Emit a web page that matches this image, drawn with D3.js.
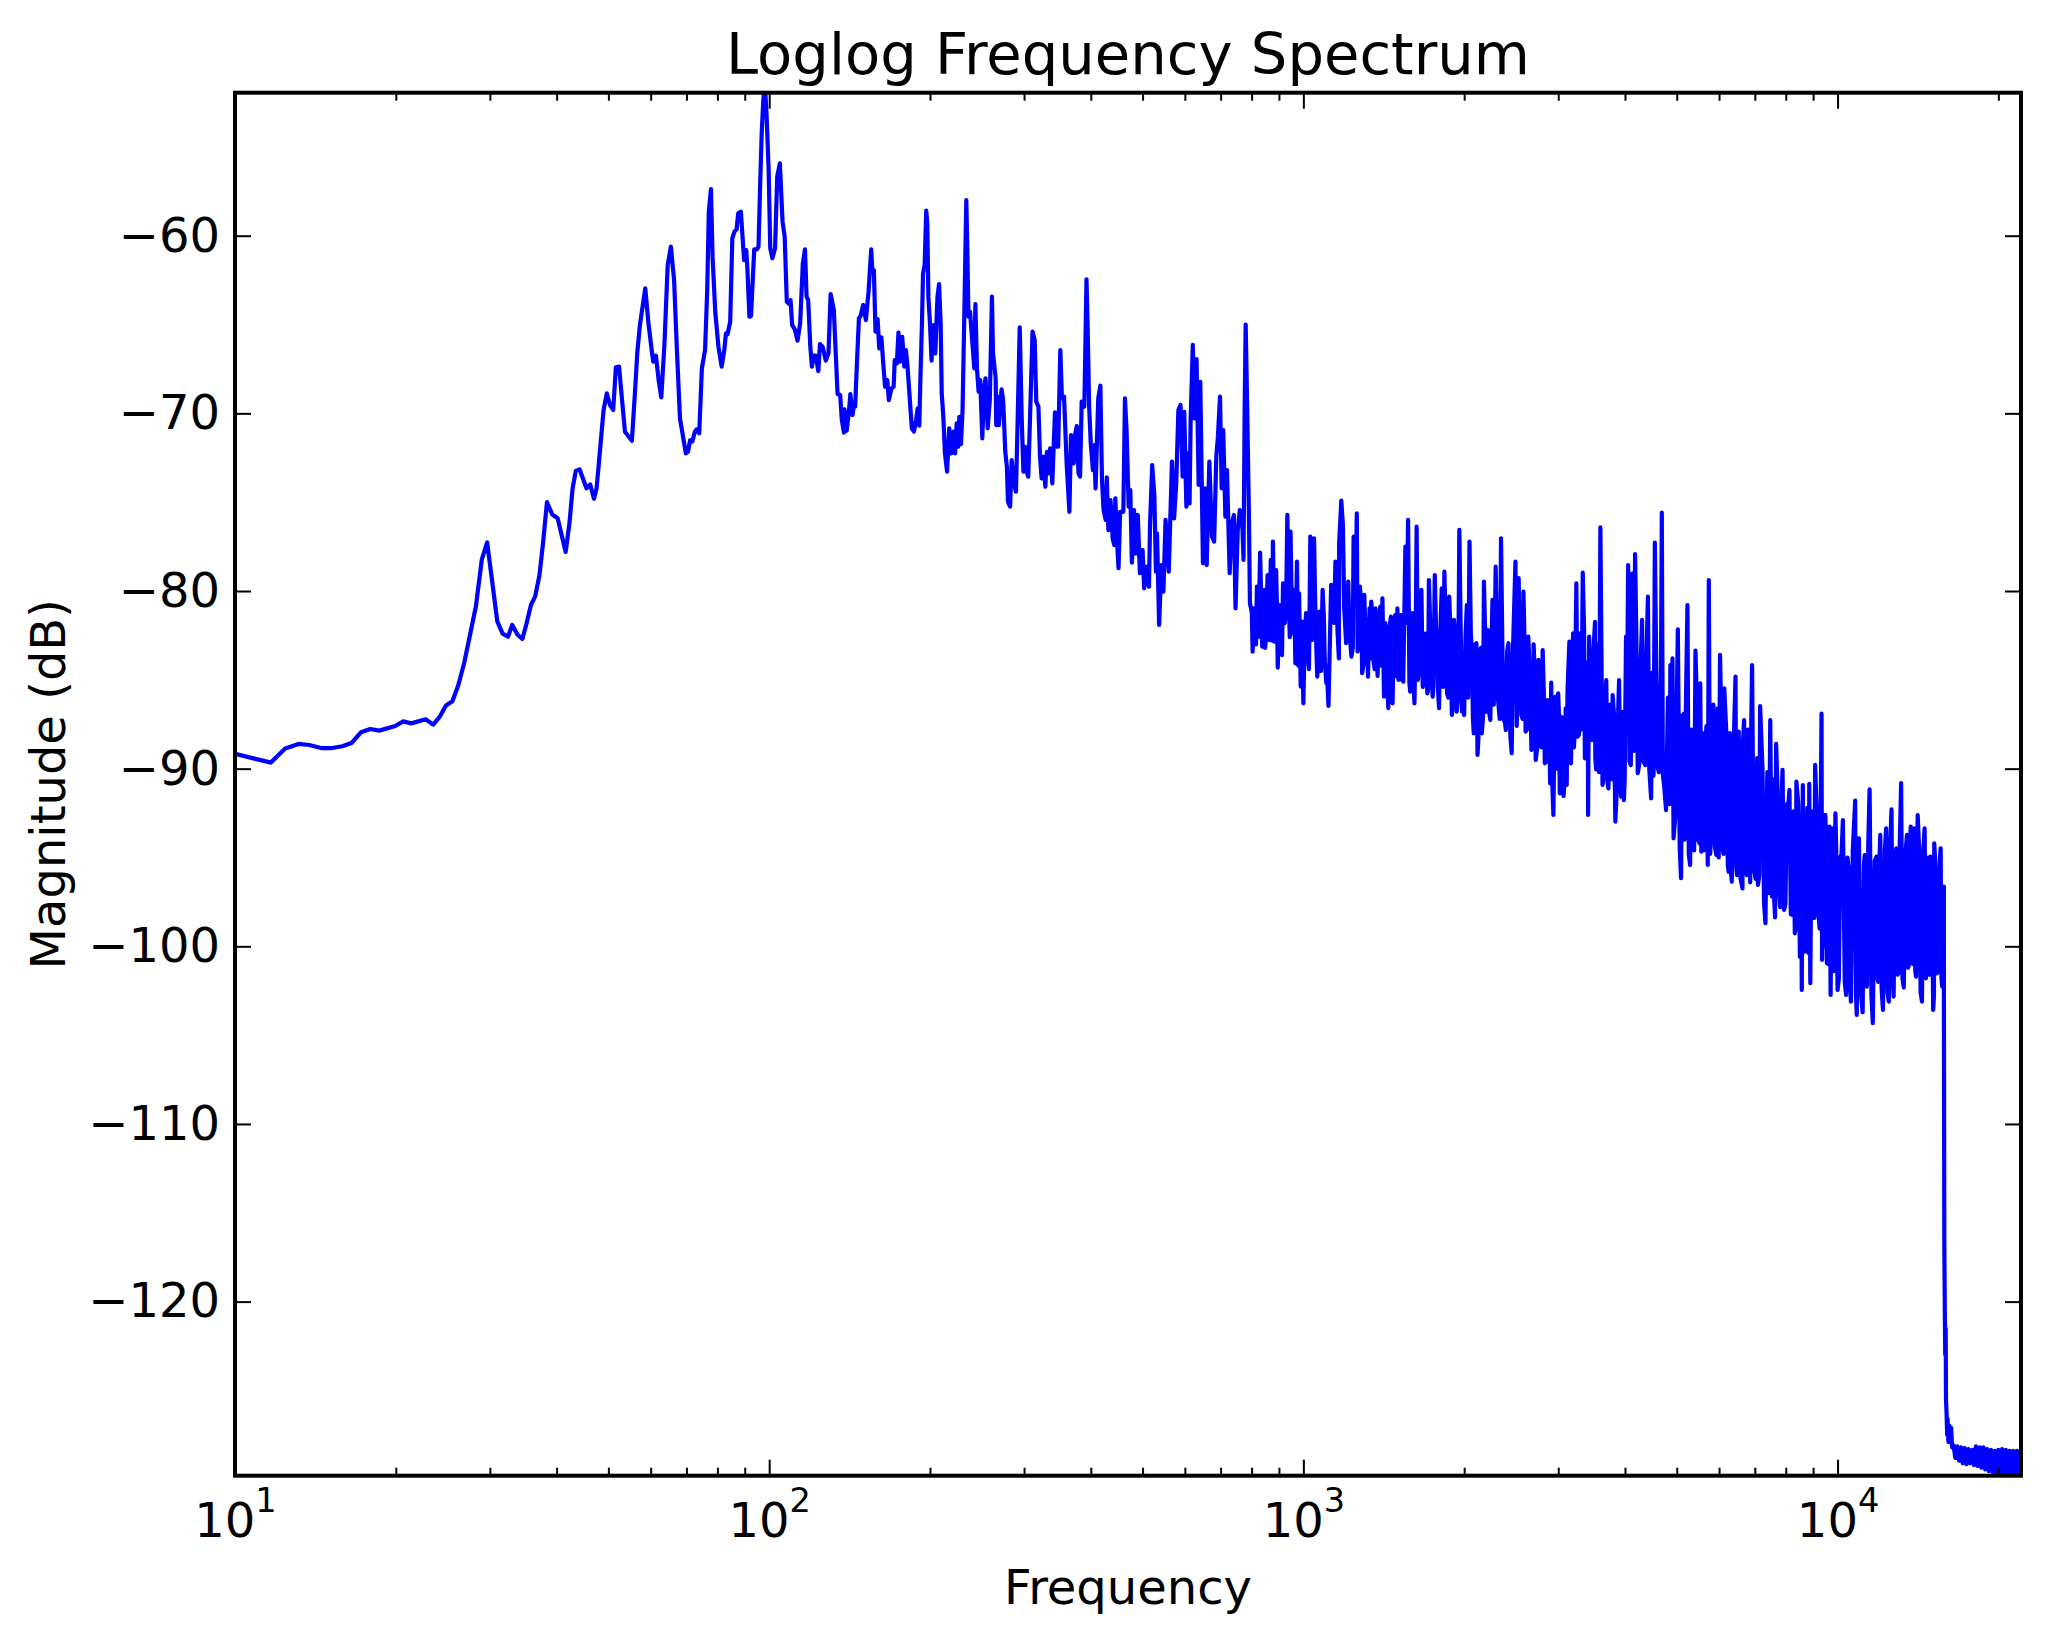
<!DOCTYPE html>
<html>
<head>
<meta charset="utf-8">
<style>
  html, body { margin: 0; background: #fff; }
  text { font-family: "DejaVu Sans"; fill: #000; }
</style>
<script src="https://cdn.jsdelivr.net/npm/d3@7"></script>
</head>
<body>
<svg id="chart" width="2049" height="1642"></svg>
<script>
// every pair is [log10 of frequency, magnitude in dB]
const lowBand = [
[1.000,-89.17],[1.067,-89.66],[1.094,-88.87],[1.119,-88.61],[1.139,-88.67],[1.161,-88.84],[1.182,-88.84],[1.201,-88.74],
[1.218,-88.56],[1.236,-87.95],[1.253,-87.77],[1.270,-87.86],[1.300,-87.6],[1.315,-87.34],[1.330,-87.45],[1.357,-87.22],
[1.371,-87.52],[1.383,-87.09],[1.395,-86.45],[1.407,-86.21],[1.418,-85.31],[1.429,-84.05],[1.440,-82.46],[1.451,-80.86],
[1.462,-78.24],[1.472,-77.26],[1.481,-79.36],[1.491,-81.71],[1.501,-82.4],[1.511,-82.57],[1.519,-81.91],[1.529,-82.46],
[1.538,-82.7],[1.546,-81.8],[1.554,-80.79],[1.562,-80.3],[1.570,-79.1],[1.577,-77.2],[1.584,-75.0],[1.594,-75.7],
[1.604,-75.9],[1.619,-77.8],[1.626,-76.2],[1.632,-74.22],[1.638,-73.24],[1.645,-73.15],[1.658,-74.22],[1.665,-74.0],
[1.672,-74.8],[1.677,-74.2],[1.685,-71.5],[1.690,-69.81],[1.696,-68.87],[1.702,-69.53],[1.708,-69.81],[1.713,-67.41],
[1.719,-67.37],[1.724,-69.06],[1.730,-71.03],[1.743,-71.54],[1.749,-68.69],[1.753,-66.62],[1.758,-65.03],[1.768,-62.96],
[1.774,-64.93],[1.780,-66.43],[1.783,-67.09],[1.788,-66.75],[1.793,-68.12],[1.798,-69.10],[1.804,-66.06],[1.810,-61.65],
[1.816,-60.62],[1.822,-62.5],[1.827,-66.25],[1.833,-70.28],[1.844,-72.25],[1.848,-72.16],[1.852,-71.5],[1.856,-71.59],
[1.861,-71.03],[1.864,-70.9],[1.869,-71.12],[1.874,-67.47],[1.880,-66.43],[1.884,-63.06],[1.887,-58.65],[1.891,-57.37],
[1.894,-61.18],[1.899,-64.28],[1.905,-66.25],[1.911,-67.37],[1.916,-66.43],[1.919,-65.50],[1.922,-65.55],[1.927,-64.84],
[1.931,-60.15],[1.935,-59.77],[1.939,-59.64],[1.942,-58.74],[1.947,-58.65],[1.953,-61.37],[1.957,-60.81],[1.959,-61.74],
[1.963,-64.56],[1.966,-64.52],[1.972,-60.77],[1.977,-60.77],[1.980,-60.62],[1.983,-57.24],[1.986,-54.24],[1.989,-52.36],
[1.992,-51.5],[1.995,-53.11],[1.999,-56.3],[2.002,-60.71],[2.006,-61.27],[2.011,-60.71],[2.015,-56.68],[2.020,-55.93],
[2.025,-59.21],[2.029,-60.06],[2.033,-63.71],[2.038,-63.85],[2.040,-63.62],[2.043,-65.03],[2.048,-65.27],[2.053,-65.91],
[2.058,-64.93],[2.063,-61.56],[2.067,-60.77],[2.070,-63.43],[2.073,-63.62],[2.077,-66.25],[2.080,-67.37],[2.083,-66.75],
[2.087,-66.75],[2.092,-67.62],[2.095,-66.1],[2.100,-66.25],[2.106,-67.03],[2.111,-66.62],[2.115,-63.28],[2.121,-64.18],
[2.128,-68.91],[2.133,-68.97]
];
const midBand = [
[2.136,-70.38],[2.140,-71.09],[2.141,-69.78],[2.145,-70.98],[2.149,-70.0],[2.152,-68.91],[2.156,-70.09],[2.159,-69.44],
[2.161,-69.62],[2.164,-67.37],[2.168,-64.65],[2.171,-64.52],[2.176,-63.9],[2.181,-64.75],[2.186,-63.15],[2.191,-60.77],
[2.193,-61.93],[2.196,-61.93],[2.199,-65.4],[2.203,-64.69],[2.206,-66.34],[2.210,-65.72],[2.214,-67.37],[2.217,-68.5],
[2.221,-68.12],[2.224,-69.25],[2.229,-68.59],[2.233,-68.5],[2.235,-67.0],[2.239,-67.19],[2.242,-65.46],[2.245,-67.09],
[2.249,-65.69],[2.253,-67.37],[2.256,-66.44],[2.259,-67.37],[2.264,-69.53],[2.267,-70.84],[2.271,-71.03],[2.275,-70.38],
[2.278,-69.72],[2.281,-70.69],[2.283,-68.12],[2.286,-64.93],[2.288,-62.12],[2.291,-61.65],[2.294,-58.59],[2.296,-59.31],
[2.298,-63.43],[2.301,-64.93],[2.304,-67.04],[2.307,-65.03],[2.311,-66.62],[2.315,-63.43],[2.318,-62.72],[2.321,-64.93],
[2.323,-68.87],[2.326,-70.19],[2.329,-72.25],[2.333,-73.28],[2.337,-70.84],[2.341,-72.25],[2.345,-71.03],[2.348,-72.25],
[2.351,-70.56],[2.354,-71.88],[2.356,-70.19],[2.359,-71.73],[2.362,-69.81],[2.365,-64.93],[2.369,-57.99],[2.371,-60.81],
[2.373,-64.56],[2.376,-64.28],[2.380,-65.87],[2.384,-67.47],[2.386,-63.85],[2.389,-67.47],[2.392,-68.78],[2.395,-68.12],
[2.399,-71.41],[2.402,-68.69],[2.405,-68.03],[2.409,-70.84],[2.413,-69.25],[2.417,-63.43],[2.419,-66.62],[2.424,-68.03],
[2.425,-70.66],[2.428,-69.06],[2.430,-70.66],[2.435,-68.65],[2.438,-69.25],[2.442,-72.16],[2.445,-73.0],[2.447,-74.97],
[2.451,-75.25],[2.454,-72.63],[2.458,-73.94],[2.462,-74.41],[2.465,-70.56],[2.469,-65.16],[2.473,-70.56],[2.476,-73.28],
[2.479,-71.88],[2.481,-73.19],[2.485,-73.56],[2.488,-70.56],[2.493,-65.4],[2.497,-65.87],[2.500,-69.34],[2.504,-69.62],
[2.507,-72.44],[2.510,-73.66],[2.513,-72.44],[2.517,-74.13],[2.520,-72.16],[2.523,-73.38],[2.526,-71.97],[2.530,-73.94],
[2.535,-69.94],[2.538,-71.88],[2.541,-71.88],[2.545,-66.44],[2.548,-69.16],[2.552,-69.06],[2.557,-72.91],[2.562,-75.54],
[2.565,-71.22],[2.570,-72.81],[2.573,-71.13],[2.576,-70.71],[2.579,-73.38],[2.582,-73.56],[2.585,-69.34],[2.590,-69.62],
[2.594,-62.46],[2.596,-64.93],[2.599,-69.62],[2.602,-71.69],[2.606,-73.19],[2.608,-71.78],[2.611,-74.22],[2.616,-69.16],
[2.620,-68.44],[2.623,-73.75],[2.626,-75.44],[2.630,-76.0],[2.632,-73.6],[2.635,-76.57],[2.639,-74.88],[2.643,-77.04],
[2.646,-77.41],[2.648,-74.79],[2.651,-77.13],[2.654,-78.72],[2.657,-75.54],[2.663,-75.54],[2.666,-69.16],[2.669,-70.94],
[2.673,-75.25],[2.676,-74.32],[2.679,-78.4],[2.683,-75.44],[2.686,-77.88],[2.690,-75.72],[2.694,-79.0],[2.699,-77.69],
[2.702,-79.85],[2.707,-78.63],[2.711,-79.76],[2.713,-76.19],[2.717,-72.91],[2.721,-74.6],[2.724,-78.91],[2.726,-76.75],
[2.730,-81.91],[2.734,-78.54],[2.738,-80.04],[2.742,-76.0],[2.748,-78.91],[2.751,-75.82],[2.754,-72.72],[2.758,-75.91],
[2.762,-73.94],[2.766,-69.81],[2.770,-69.53],[2.774,-73.56],[2.777,-69.91],[2.781,-75.25],[2.783,-72.25],[2.787,-75.07],
[2.789,-70.28],[2.793,-66.15],[2.796,-70.28],[2.800,-66.94],[2.804,-74.03],[2.807,-68.22],[2.812,-78.44],[2.816,-74.22],
[2.819,-78.54],[2.824,-72.72],[2.829,-76.94],[2.833,-77.22],[2.837,-72.44],[2.840,-71.31],[2.844,-69.06],[2.847,-74.22],
[2.850,-70.94],[2.854,-75.82],[2.857,-73.19],[2.862,-79.0],[2.866,-76.19],[2.870,-75.72],[2.873,-80.98],[2.877,-76.66],
[2.881,-75.44]
];
const highBand = [
[2.885,-75.63],[2.888,-78.25],[2.890,-70.0],[2.892,-65.0],[2.895,-70.0],[2.898,-75.63],[2.900,-80.69],[2.905,-83.41],
[2.907,-80.97],[2.910,-82.57],[2.913,-79.75],[2.916,-82.57],[2.919,-77.84],[2.923,-83.13],[2.927,-79.94],[2.930,-82.57],
[2.933,-79.1],[2.936,-82.76],[2.939,-78.25],[2.943,-77.22],[2.946,-82.85],[2.949,-78.82],[2.952,-84.31],[2.955,-80.79],
[2.960,-83.6],[2.962,-79.57],[2.965,-81.82],[2.970,-75.72],[2.973,-80.69],[2.976,-76.66],[2.979,-82.38],[2.982,-79.94],
[2.985,-84.07],[2.988,-78.35],[2.992,-80.13],[2.995,-85.38],[2.997,-81.72],[3.000,-86.32],[3.005,-81.25],[3.008,-83.51],
[3.013,-76.94],[3.016,-82.76],[3.020,-77.03],[3.023,-82.0],[3.026,-84.82],[3.030,-81.16],[3.033,-84.5],[3.036,-79.94],
[3.040,-83.88],[3.043,-85.19],[3.047,-86.47],[3.052,-79.66],[3.055,-81.25],[3.060,-78.35],[3.064,-82.29],[3.067,-77.31],
[3.071,-74.91],[3.074,-76.28],[3.077,-81.25],[3.080,-82.94],[3.084,-79.47],[3.090,-83.69],[3.094,-76.94],[3.100,-75.63],
[3.103,-82.76],[3.106,-79.75],[3.110,-84.63],[3.114,-80.22],[3.118,-83.88],[3.121,-84.82],[3.124,-80.97],[3.127,-80.6],
[3.131,-83.88],[3.135,-80.97],[3.139,-84.78],[3.144,-80.88],[3.148,-80.41],[3.151,-85.95],[3.155,-83.13],[3.159,-86.6],
[3.164,-81.44],[3.167,-86.32],[3.172,-81.35],[3.176,-80.97],[3.178,-85.0],[3.182,-81.35],[3.187,-85.1],[3.191,-77.5],
[3.196,-76.0],[3.200,-85.66],[3.204,-81.25],[3.208,-86.32],[3.212,-76.38],[3.216,-84.54],[3.221,-79.94],[3.225,-85.19],
[3.232,-85.76],[3.235,-79.38],[3.239,-83.0],[3.242,-85.95],[3.246,-79.1],[3.250,-82.57],[3.254,-86.6],[3.259,-79.85],
[3.264,-78.91],[3.269,-85.76],[3.273,-80.32],[3.278,-86.98],[3.282,-81.63],[3.287,-86.79],[3.292,-76.56],[3.297,-86.79],
[3.301,-86.98],[3.306,-80.79],[3.311,-77.22],[3.315,-83.13],[3.319,-88.01],[3.324,-82.94],[3.326,-89.23],[3.331,-83.41],
[3.334,-88.01],[3.338,-79.47],[3.342,-86.79],[3.345,-82.19],[3.350,-87.26],[3.354,-80.5],[3.360,-78.63],[3.364,-85.95],
[3.370,-77.03],[3.375,-87.26],[3.379,-87.82],[3.384,-82.94],[3.390,-89.13],[3.397,-78.35],[3.403,-79.28],[3.408,-86.98],
[3.412,-80.04],[3.416,-87.91],[3.421,-82.57],[3.427,-88.95],[3.431,-83.0],[3.435,-89.51],[3.440,-83.88],[3.443,-88.01],
[3.448,-83.32],[3.452,-89.70],[3.457,-86.14],[3.462,-90.83],[3.464,-85.16],[3.468,-92.61],[3.472,-85.95],[3.477,-85.76],
[3.480,-91.39],[3.483,-87.08],[3.487,-91.54],[3.491,-86.61],[3.493,-90.92],[3.498,-82.85],[3.501,-89.70],[3.505,-82.38],
[3.508,-88.0],[3.511,-79.57],[3.516,-88.07],[3.523,-78.97],[3.527,-89.42],[3.533,-92.61],[3.535,-82.57],[3.540,-88.39],
[3.546,-81.73],[3.548,-90.04],[3.556,-76.42],[3.560,-90.92],[3.567,-85.01],[3.571,-91.11],[3.579,-85.86],[3.584,-92.98],
[3.591,-85.01],[3.595,-91.58],[3.600,-91.77],[3.604,-82.57],[3.608,-78.54],[3.613,-89.8],[3.616,-79.0],[3.621,-77.92],
[3.626,-90.26],[3.634,-81.63],[3.640,-89.8],[3.645,-80.32],[3.651,-91.67],[3.658,-77.28],[3.662,-89.8],[3.671,-75.59],
[3.673,-90.36],[3.679,-92.33],[3.687,-84.17],[3.691,-83.79],[3.693,-93.92],[3.701,-82.16],[3.707,-96.17],[3.713,-86.9],
[3.719,-80.79],[3.724,-95.42],[3.729,-90.0],[3.734,-83.36],[3.739,-94.0],[3.743,-85.2],[3.745,-94.67],[3.751,-89.42],
[3.757,-95.42],[3.759,-79.38],[3.765,-92.7],[3.773,-94.86],[3.780,-83.6],[3.784,-94.39],[3.788,-85.48],[3.796,-95.8],
[3.802,-96.36],[3.809,-84.82],[3.812,-96.0],[3.815,-87.92],[3.822,-96.74],[3.825,-87.26],[3.830,-95.99],[3.840,-84.17],
[3.843,-95.52],[3.851,-96.55],[3.855,-86.48]
];
const topBand = [
[3.865,-98.7],[3.874,-87.26],[3.877,-97.2],[3.883,-98.37],[3.885,-88.61],[3.890,-96.5],[3.897,-90.07],[3.900,-97.95],
[3.905,-92.0],[3.910,-91.2],[3.915,-98.23],[3.920,-99.27],[3.923,-90.73],[3.933,-102.46],[3.935,-90.92],[3.940,-100.3],
[3.947,-90.86],[3.949,-102.08],[3.954,-97.0],[3.958,-89.79],[3.963,-97.76],[3.970,-86.9],[3.971,-100.77],[3.977,-92.6],
[3.980,-100.95],[3.985,-93.26],[3.987,-102.74],[3.991,-93.36],[3.996,-92.51],[4.000,-102.46],[4.005,-95.0],[4.010,-92.89],
[4.016,-102.74],[4.021,-95.7],[4.025,-103.11],[4.033,-91.8],[4.036,-103.86],[4.040,-93.92],[4.047,-103.71],[4.051,-94.86],
[4.055,-102.27],[4.060,-91.16],[4.066,-104.33],[4.073,-94.95],[4.076,-102.0],[4.080,-93.73],[4.085,-103.58],[4.091,-93.36],
[4.096,-103.11],[4.101,-92.29],[4.105,-102.83],[4.110,-94.48],[4.114,-101.5],[4.119,-90.82],[4.124,-102.32],[4.130,-93.73],
[4.133,-101.14],[4.137,-93.26],[4.141,-101.0],[4.144,-93.36],[4.147,-101.71],[4.150,-92.61],[4.158,-103.11],[4.163,-93.36],
[4.171,-101.52],[4.174,-94.95],[4.179,-103.58],[4.181,-94.2],[4.186,-101.52],[4.193,-94.48],[4.196,-102.27],[4.199,-96.64]
];
// the solid body of the trace, where the spikes are too close together to tell apart
const denseBody = [
[2.9035,-81.2],[2.9115,-83.0],[2.9215,-81.0],[2.9285,-83.2],[2.9345,-81.0],[2.9415,-82.8],[2.9505,-80.8],[2.9575,-83.4],
[2.9675,-81.2],[2.9745,-82.6],[2.9835,-81.4],[2.9905,-84.2],[3.0025,-82.6],[3.0105,-84.4],[3.0185,-81.8],[3.0285,-83.6],
[3.0385,-81.6],[3.0445,-84.8],[3.0575,-81.8],[3.0665,-83.8],[3.0765,-81.0],[3.0865,-82.4],[3.0925,-83.2],[3.0975,-80.6],
[3.1015,-83.4],[3.1085,-81.0],[3.1135,-84.0],[3.1195,-81.6],[3.1255,-83.8],[3.1295,-81.4],[3.1335,-84.4],[3.1415,-81.6],
[3.1455,-84.2],[3.1535,-81.8],[3.1575,-85.2],[3.1615,-82.0],[3.1655,-85.0],[3.1695,-82.2],[3.1745,-84.8],[3.1805,-81.8],
[3.1845,-85.0],[3.1935,-81.8],[3.1985,-85.2],[3.2025,-82.0],[3.2065,-85.4],[3.2105,-81.6],[3.2145,-85.0],[3.2185,-82.0],
[3.2235,-85.4],[3.2285,-82.4],[3.2335,-85.6],[3.2375,-82.0],[3.2435,-85.4],[3.2485,-82.2],[3.2525,-85.8],[3.2565,-82.2],
[3.2615,-85.4],[3.2665,-82.0],[3.2715,-86.0],[3.2755,-82.4],[3.2805,-86.2],[3.2845,-82.6],[3.2895,-86.0],[3.2945,-82.2],
[3.2995,-86.4],[3.3035,-82.6],[3.3085,-86.0],[3.3135,-82.4],[3.3175,-87.2],[3.3215,-83.0],[3.3285,-87.8],[3.3325,-83.2],
[3.3365,-87.0],[3.3405,-82.6],[3.3475,-86.8],[3.3525,-82.6],[3.3565,-86.4],[3.3625,-82.8],[3.3675,-87.2],[3.3725,-83.0],
[3.3775,-87.4],[3.3815,-83.4],[3.3875,-88.2],[3.3925,-83.2],[3.3995,-87.6],[3.4055,-83.4],[3.4105,-87.2],[3.4145,-83.6],
[3.4185,-87.8],[3.4235,-84.4],[3.4295,-88.4],[3.4335,-85.0],[3.4385,-88.6],[3.4415,-85.8],[3.4455,-88.8],[3.4505,-86.2],
[3.4545,-89.6],[3.4595,-87.0],[3.4655,-90.4],[3.4705,-87.2],[3.4745,-90.0],[3.4785,-87.0],[3.4815,-90.4],[3.4855,-87.2],
[3.4895,-90.6],[3.4945,-85.6],[3.4995,-89.2],[3.5035,-84.0],[3.5065,-88.8],[3.5095,-83.2],[3.5135,-88.2],[3.5175,-82.4],
[3.5205,-87.8],[3.5255,-82.2],[3.5295,-88.6],[3.5325,-84.0],[3.5375,-88.2],[3.5425,-83.6],[3.5465,-89.4],[3.5505,-83.0],
[3.5535,-90.2],[3.5585,-85.2],[3.5625,-90.4],[3.5655,-86.0],[3.5695,-90.8],[3.5745,-86.4],[3.5775,-90.6],[3.5815,-87.0],
[3.5865,-91.4],[3.5895,-86.6],[3.5935,-91.0],[3.5975,-86.8],[3.6015,-90.6],[3.6065,-84.0],[3.6105,-89.6],[3.6145,-82.6],
[3.6185,-89.0],[3.6235,-83.0],[3.6285,-89.8],[3.6315,-84.0],[3.6365,-89.6],[3.6425,-83.4],[3.6475,-90.0],[3.6535,-84.6],
[3.6555,-90.4],[3.6605,-84.0],[3.6655,-90.2],[3.6695,-84.2],[3.6755,-91.0],[3.6825,-86.0],[3.6855,-92.0],[3.6895,-86.2],
[3.6965,-92.6],[3.6995,-85.4],[3.7045,-94.4],[3.7095,-87.0],[3.7135,-94.0],[3.7165,-85.6],[3.7215,-94.8],[3.7265,-87.8],
[3.7315,-94.6],[3.7365,-86.2],[3.7415,-94.2],[3.7475,-88.0],[3.7495,-94.6],[3.7545,-87.6],[3.7615,-94.8],[3.7675,-86.4],
[3.7705,-94.4],[3.7755,-86.6],[3.7775,-95.0],[3.7825,-87.4],[3.7865,-94.8],[3.7915,-87.8],[3.7945,-95.4],[3.7985,-88.0],
[3.8005,-95.8],[3.8065,-87.6],[3.8105,-95.6],[3.8135,-88.4],[3.8185,-96.2],[3.8225,-88.8],[3.8275,-95.6],[3.8325,-87.8],
[3.8365,-96.4],[3.8385,-87.4],[3.8465,-96.2],[3.8495,-89.4],[3.8535,-96.0],[3.8595,-90.0],[3.8625,-97.6],[3.8685,-90.2],
[3.8715,-97.0],[3.8795,-90.6],[3.8815,-97.4],[3.8875,-91.0],[3.8925,-97.8],[3.8955,-91.6],[3.9025,-97.6],[3.9075,-92.2],
[3.9125,-98.2],[3.9175,-92.4],[3.9215,-99.0],[3.9265,-92.0],[3.9295,-100.6],[3.9315,-92.6],[3.9375,-100.0],[3.9435,-92.2],
[3.9465,-100.4],[3.9515,-92.4],[3.9565,-98.4],[3.9605,-92.0],[3.9665,-99.0],[3.9735,-94.0],[3.9755,-100.0],[3.9785,-94.2],
[3.9825,-101.0],[3.9895,-95.0],[3.9935,-101.4],[3.9975,-94.6],[4.0025,-101.8],[4.0075,-94.8],[4.0135,-102.0],[4.0185,-95.0],
[4.0235,-102.2],[4.0285,-94.6],[4.0345,-102.8],[4.0385,-95.0],[4.0435,-102.6],[4.0495,-95.4],[4.0535,-101.6],[4.0575,-94.2],
[4.0635,-102.8],[4.0695,-95.2],[4.0745,-101.8],[4.0785,-95.0],[4.0825,-102.4],[4.0885,-94.6],[4.0935,-102.6],[4.0985,-94.4],
[4.1035,-102.0],[4.1075,-95.0],[4.1125,-101.6],[4.1165,-94.2],[4.1215,-101.8],[4.1275,-94.6],[4.1315,-101.2],[4.1355,-94.4],
[4.1395,-100.8],[4.1425,-94.6],[4.1455,-101.4],[4.1525,-94.4],[4.1555,-102.6],[4.1605,-94.6],[4.1655,-101.8],[4.1695,-95.0],
[4.1725,-101.6],[4.1765,-95.4],[4.1805,-102.8],[4.1835,-95.6],[4.1885,-101.4],[4.1915,-95.2],[4.1945,-101.8]
];
const rolloff = [
[4.1991,-103],[4.1996,-112],[4.1999,-117],[4.2008,-120.5],[4.2016,-123],[4.2024,-121.5],[4.2030,-125.5],[4.2040,-126.2],
[4.2052,-127.5],[4.2060,-126.6],[4.2075,-127.9],[4.2095,-127.0],[4.2105,-127.9],[4.2125,-127.1],[4.2145,-128.2],[4.2172,-128.1],
[4.2205,-128.8],[4.2240,-128.15],[4.2275,-128.95],[4.2310,-128.2],[4.2345,-129.1],[4.2380,-128.25],[4.2415,-129.15],[4.2450,-128.3],
[4.2485,-129.1],[4.2520,-128.35],[4.2555,-129.2],[4.2590,-128.15],[4.2625,-129.25],[4.2660,-128.2],[4.2695,-129.35],[4.2730,-128.2],
[4.2765,-129.45],[4.2800,-128.3],[4.2835,-129.55],[4.2870,-128.35],[4.2905,-129.6],[4.2940,-128.4],[4.2975,-129.65],[4.3010,-128.35],
[4.3045,-129.7],[4.3080,-128.3],[4.3115,-129.75],[4.3150,-128.35],[4.3185,-129.75],[4.3220,-128.4],[4.3255,-129.8],[4.3290,-128.4],
[4.3325,-129.8],[4.3360,-128.4],[4.3395,-129.8],[4.3434,-128.5]
];
const yTicks = [-60, -70, -80, -90, -100, -110, -120];
const decades = [10, 100, 1000, 10000];
const minorMults = [2, 3, 4, 5, 6, 7, 8, 9];
const freqMax = 22050;
const dbMin = -129.8;
const dbMax = -51.95;

let spectrum = lowBand.concat(midBand, highBand, topBand, denseBody, rolloff)
  .sort(function(a, b) { return a[0] - b[0]; });

let svg = d3.select("#chart");
let left = 235, right = 2021, top_ = 92.7, bottom = 1475.7;

let xScale = d3.scaleLog().domain([10, freqMax]).range([left, right]);
let yScale = d3.scaleLinear().domain([dbMin, dbMax]).range([bottom, top_]);

let minorTicks = [];
decades.forEach(function(d) {
  minorMults.forEach(function(m) {
    if (d * m < freqMax) minorTicks.push(d * m);
  });
});

svg.append("clipPath").attr("id", "plotArea").append("rect")
  .attr("x", left).attr("y", top_).attr("width", right - left).attr("height", bottom - top_);

let line = d3.line()
  .x(function(d) { return xScale(Math.pow(10, d[0])); })
  .y(function(d) { return yScale(d[1]); });

svg.append("path")
  .datum(spectrum)
  .attr("d", line)
  .attr("clip-path", "url(#plotArea)")
  .attr("fill", "none")
  .attr("stroke", "#0000ff")
  .attr("stroke-width", 4.2)
  .attr("stroke-linejoin", "round");

// ticks point inward on all four sides
function styleTicks(g) {
  g.select(".domain").remove();
  g.selectAll(".tick line").attr("stroke", "#000").attr("stroke-width", 2);
}

let noLabel = function() { return ""; };

svg.append("g").attr("transform", "translate(0," + bottom + ")")
  .call(d3.axisBottom(xScale).tickValues(minorTicks).tickSize(-8).tickFormat(noLabel)).call(styleTicks);
svg.append("g").attr("transform", "translate(0," + top_ + ")")
  .call(d3.axisTop(xScale).tickValues(minorTicks).tickSize(-8).tickFormat(noLabel)).call(styleTicks);
svg.append("g").attr("transform", "translate(0," + top_ + ")")
  .call(d3.axisTop(xScale).tickValues(decades).tickSize(-16).tickFormat(noLabel)).call(styleTicks);
svg.append("g").attr("transform", "translate(" + right + ",0)")
  .call(d3.axisRight(yScale).tickValues(yTicks).tickSize(-16).tickFormat(noLabel)).call(styleTicks);

let xAxis = svg.append("g").attr("transform", "translate(0," + bottom + ")")
  .call(d3.axisBottom(xScale).tickValues(decades).tickSize(-16).tickFormat(noLabel)).call(styleTicks);
xAxis.selectAll(".tick text").remove();
xAxis.selectAll(".tick").append("text")
  .attr("y", 61)
  .attr("text-anchor", "middle")
  .style("font-size", "48px")
  .each(function(d) {
    let t = d3.select(this);
    t.append("tspan").text("10");
    t.append("tspan").attr("dy", -25).style("font-size", "33.6px").text(Math.round(Math.log10(d)));
  });

let yAxis = svg.append("g").attr("transform", "translate(" + left + ",0)")
  .call(d3.axisLeft(yScale).tickValues(yTicks).tickSize(-16).tickPadding(15).tickFormat(d3.format("d"))).call(styleTicks);
yAxis.selectAll(".tick text")
  .attr("dy", "0.32em")
  .style("font-family", '"DejaVu Sans"')
  .style("font-size", "48px");

svg.append("rect")
  .attr("x", left).attr("y", top_).attr("width", right - left).attr("height", bottom - top_)
  .attr("fill", "none").attr("stroke", "#000").attr("stroke-width", 4);

svg.append("text").attr("x", (left + right) / 2).attr("y", 74)
  .attr("text-anchor", "middle").style("font-size", "57.6px").text("Loglog Frequency Spectrum");
svg.append("text").attr("x", (left + right) / 2).attr("y", 1604)
  .attr("text-anchor", "middle").style("font-size", "48px").text("Frequency");
svg.append("text").attr("transform", "translate(65," + (top_ + bottom) / 2 + ") rotate(-90)")
  .attr("text-anchor", "middle").style("font-size", "48px").text("Magnitude (dB)");
</script>
</body>
</html>
